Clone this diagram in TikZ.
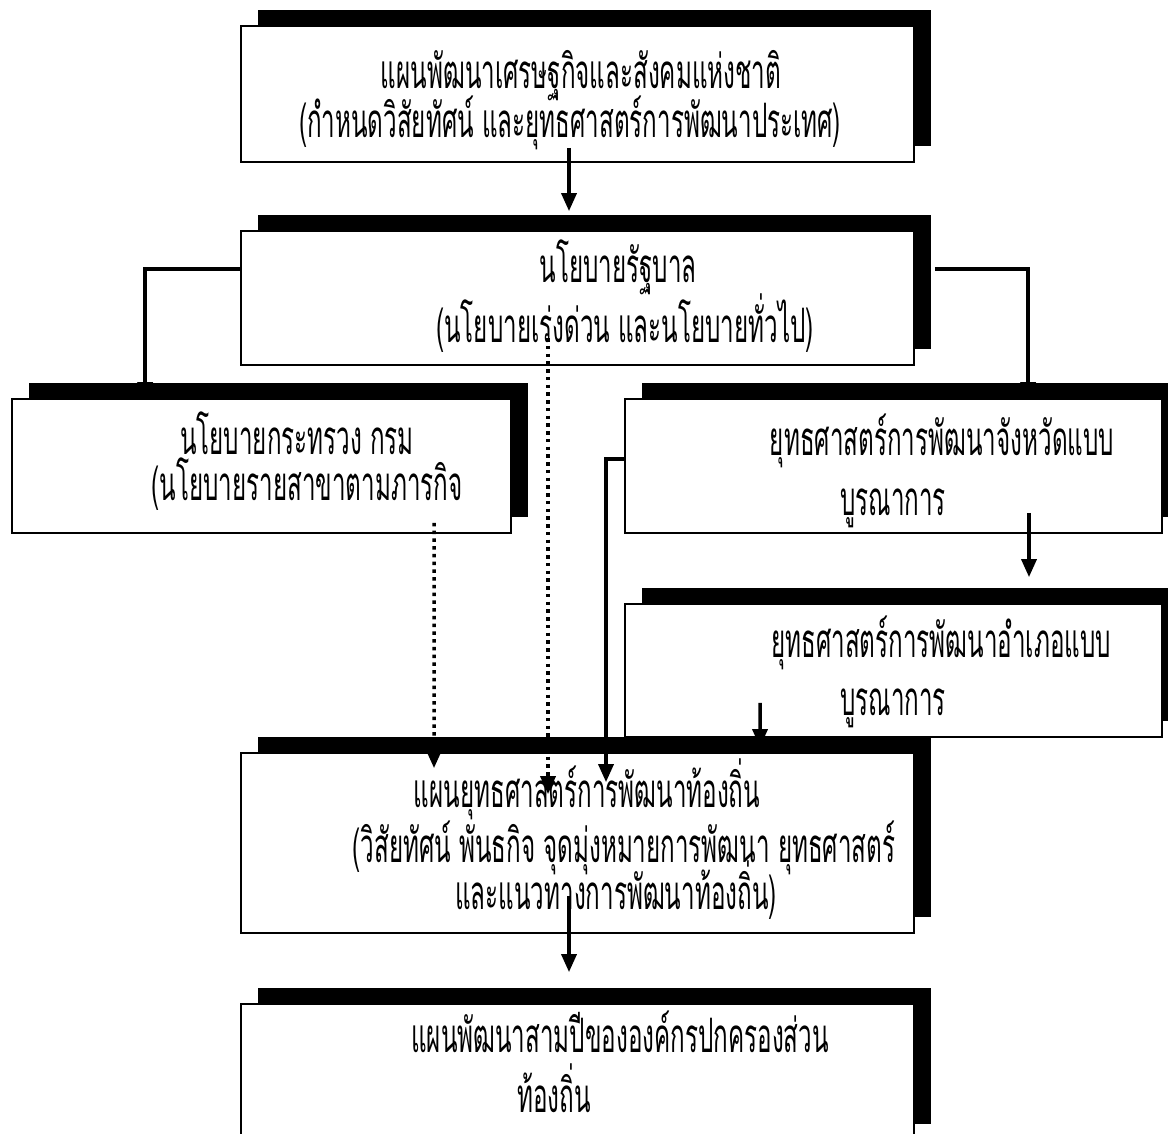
\documentclass[tikz,border=0pt]{standalone}
\usepackage{fontspec}
\newfontfamily\thaifont[Script=Thai,FakeStretch=0.51]{Loma}
\usetikzlibrary{shadows, arrows.meta, calc}

\tikzset{
    planbox/.style={draw, line width=1pt, fill=white, inner sep=0pt,
        general shadow={fill=black, shadow xshift=3.4mm, shadow yshift=3.2mm}},
    planlabel/.style={anchor=base, inner sep=0pt, font=\thaifont\fontsize{27}{31}\selectfont},
    link/.style={line width=0.7mm},
    linkarrow/.style={link, -{Triangle[length=3.6mm, width=3mm]}},
    dotarrow/.style={linkarrow, dash pattern=on 0.7mm off 0.85mm},
}

\begin{document}
\begin{tikzpicture}[x=0.2mm, y=-0.2mm]
    \useasboundingbox (0,0) rectangle (1168,1133);
    \clip (0,0) rectangle (1168,1133);
    %%% Boxes
    \node[planbox, minimum width=134.6mm, minimum height=27.2mm] (b1) at (577.5,94) {}; % national plan
    \node[planlabel] (t1a) at (581,88) {แผนพัฒนาเศรษฐกิจและสังคมแห่งชาติ};
    \node[planlabel] (t1b) at (570,137) {(กำหนดวิสัยทัศน์ และยุทธศาสตร์การพัฒนาประเทศ)};
    %
    \node[planbox, minimum width=134.6mm, minimum height=26.8mm] (b2) at (577.5,298) {}; % government policy
    \node[planlabel] (t2a) at (618,282) {นโยบายรัฐบาล};
    \node[planlabel] (t2b) at (625,342) {(นโยบายเร่งด่วน และนโยบายทั่วไป)};
    %
    \node[planbox, minimum width=99.8mm, minimum height=26.8mm] (b3) at (261.5,466) {}; % ministry
    \node[planlabel] (t3a) at (297,454) {นโยบายกระทรวง กรม};
    \node[planlabel] (t3b) at (307,500) {(นโยบายรายสาขาตามภารกิจ};
    %
    \node[planbox, minimum width=107.4mm, minimum height=26.8mm] (b4) at (893.5,466) {}; % province
    \node[planlabel] (t4a) at (942,455) {ยุทธศาสตร์การพัฒนาจังหวัดแบบ};
    \node[planlabel] (t4b) at (893,515) {บูรณาการ};
    %
    \node[planbox, minimum width=107.4mm, minimum height=26.6mm] (b5) at (893.5,670.5) {}; % district
    \node[planlabel] (t5a) at (941,657) {ยุทธศาสตร์การพัฒนาอำเภอแบบ};
    \node[planlabel] (t5b) at (893,715) {บูรณาการ};
    %
    \node[planbox, minimum width=134.6mm, minimum height=36mm] (b6) at (577.5,843) {}; % local strategy
    \node[planlabel] (t6a) at (587,807) {แผนยุทธศาสตร์การพัฒนาท้องถิ่น};
    \node[planlabel] (t6b) at (624,862) {(วิสัยทัศน์ พันธกิจ จุดมุ่งหมายการพัฒนา ยุทธศาสตร์};
    \node[planlabel] (t6c) at (616,909) {และแนวทางการพัฒนาท้องถิ่น)};
    %
    \node[planbox, minimum width=134.6mm, minimum height=27.2mm] (b7) at (577.5,1072) {}; % three-year plan
    \node[planlabel] (t7a) at (620,1052) {แผนพัฒนาสามปีขององค์กรปกครองส่วน};
    \node[planlabel] (t7b) at (554,1112) {ท้องถิ่น};
    %%% Connectors
    \draw[linkarrow] ($(b1.south)+(-8.5,-15)$) -- ($(b2.north)+(-8.5,-19)$);
    \draw[linkarrow] ($(b2.west)+(0,-29)$) -| ($(b3.north west)+(134,2)$);
    \draw[linkarrow] ($(b2.east)+(20,-29)$) -| ($(b4.north west)+(404,2)$);
    \draw[dotarrow] ($(b2.center)+(-29.5,40)$) -- ($(b6.north)+(-29.5,42)$);
    \draw[dotarrow] ($(b3.south)+(172.5,-11)$) -- ($(b6.north)+(-143.5,16)$);
    \draw[linkarrow] ($(b4.west)+(0,-7)$) -| ($(b6.north)+(28.5,30)$);
    \draw[linkarrow] ($(b4.south)+(135.5,-21)$) -- ($(b5.north)+(135.5,-26)$);
    \draw[linkarrow] ($(b5.south)+(-133.5,-35)$) -- ($(b6.north)+(182.5,-5)$);
    \draw[linkarrow] ($(b6.south)+(-8.5,-38)$) -- ($(b7.north)+(-8.5,-31)$);
\end{tikzpicture}
\end{document}
